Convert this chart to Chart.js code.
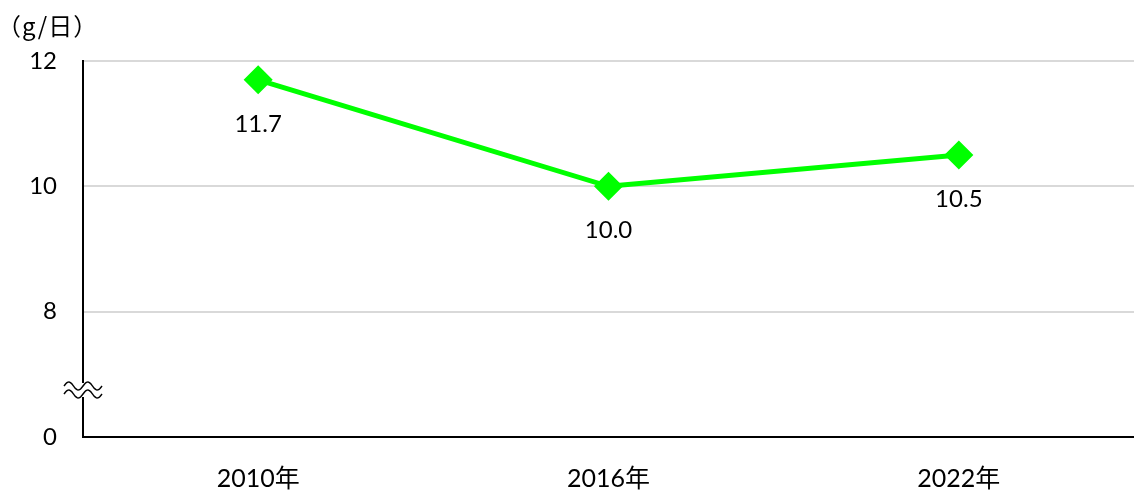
<!DOCTYPE html>
<html>
<head>
<meta charset="utf-8">
<script src="https://cdn.jsdelivr.net/npm/chart.js@4"></script>
<style>
  html, body { margin: 0; padding: 0; background: #fff; }
  #wrap { width: 1134px; height: 491px; position: relative; }
</style>
</head>
<body>
<div id="wrap"><canvas id="saltChart"></canvas></div>
<script>
// データ
const years = ['2010年', '2016年', '2022年'];
const intake = [11.7, 10.0, 10.5];
const yTicks = [6, 8, 10, 12];
const yTickLabels = ['0', '8', '10', '12'];
const unitLabel = '（g/日）';

const FONT = "Lato, 'Noto Sans CJK JP', sans-serif";

// 値ラベル・単位・軸の省略記号を描くプラグイン
const extras = {
    id: 'extras',
    afterDatasetsDraw(chart) {
        const ctx = chart.ctx;
        const meta = chart.getDatasetMeta(0);
        ctx.save();
        ctx.fillStyle = '#000';
        ctx.font = '24px ' + FONT;
        ctx.textAlign = 'center';
        ctx.textBaseline = 'middle';
        meta.data.forEach((pt, i) => {
            ctx.fillText(intake[i].toFixed(1), pt.x, pt.y + 44);
        });

        // 単位
        ctx.font = "24px 'Noto Sans CJK JP', sans-serif";
        ctx.letterSpacing = '1px';
        ctx.textAlign = 'left';
        ctx.fillText(unitLabel, -3, 26);
        ctx.letterSpacing = '0px';

        // 波線（軸の省略）
        const y = chart.scales.y.getPixelForValue(6.75);
        const x = chart.scales.y.right;
        ctx.fillStyle = '#fff';
        ctx.fillRect(x - 18, y - 7, 36, 14);
        ctx.strokeStyle = '#000';
        ctx.lineWidth = 1.5;
        [-4, 4].forEach(dy => {
            ctx.beginPath();
            for (let dx = -19; dx <= 19; dx++) {
                const yy = y + dy + 4 * Math.sin(dx / 19 * 2 * Math.PI + Math.PI);
                if (dx === -19) ctx.moveTo(x + dx, yy); else ctx.lineTo(x + dx, yy);
            }
            ctx.stroke();
        });
        ctx.restore();
    }
};

const ctx = document.getElementById('saltChart').getContext('2d');
new Chart(ctx, {
    type: 'line',
    data: {
        labels: years,
        datasets: [{
            data: intake,
            borderColor: '#00ff00',
            backgroundColor: '#00ff00',
            borderWidth: 5,
            pointStyle: 'rectRot',
            pointRadius: 11,
            pointHoverRadius: 11,
            tension: 0
        }]
    },
    options: {
        responsive: true,
        maintainAspectRatio: false,
        animation: false,
        layout: { autoPadding: false, padding: { top: 61, left: 0, right: 0, bottom: 0 } },
        plugins: {
            legend: { display: false },
            tooltip: { enabled: false }
        },
        scales: {
            x: {
                offset: true,
                afterFit(scale) { scale.height = 54; },
                grid: { display: false, drawTicks: false },
                border: { color: '#000', width: 2 },
                ticks: { color: '#000', font: { family: FONT, size: 25 }, padding: 27 }
            },
            y: {
                min: 6,
                max: 12,
                afterBuildTicks(scale) {
                    scale.ticks = yTicks.map(v => ({ value: v }));
                },
                afterFit(scale) { scale.width = 83; },
                grid: {
                    drawTicks: false,
                    color: c => (c.tick && c.tick.value === 6) ? 'rgba(0,0,0,0)' : '#d9d9d9',
                    lineWidth: 2
                },
                border: { color: '#000', width: 2 },
                ticks: {
                    color: '#000',
                    font: { family: FONT, size: 24 },
                    padding: 26,
                    callback: (v) => yTickLabels[yTicks.indexOf(v)]
                }
            }
        }
    },
    plugins: [extras]
});
</script>
</body>
</html>
